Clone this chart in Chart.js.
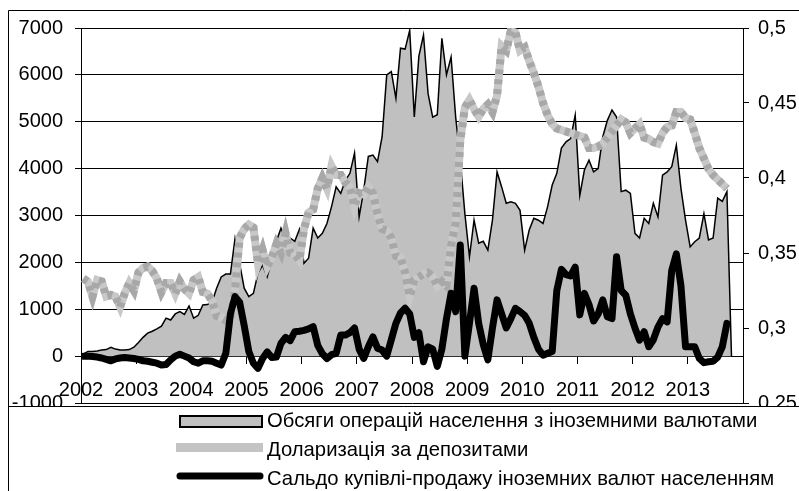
<!DOCTYPE html>
<html>
<head>
<meta charset="utf-8">
<script src="https://cdn.jsdelivr.net/npm/chart.js@4.4.1/dist/chart.umd.min.js"></script>
<style>
  html, body { margin: 0; padding: 0; background: #fff; }
  #wrap { width: 799px; height: 491px; position: relative; }
</style>
</head>
<body>
<div id="wrap"><canvas id="myChart"></canvas></div>
<script>
  // роки на осі X (місячні дані з січня 2002)
  const years = ['2002','2003','2004','2005','2006','2007','2008','2009','2010','2011','2012','2013'];

  // Обсяги операцій населення з іноземними валютами (ліва вісь)
  const volume = [
    40,100,100,110,130,140,190,150,130,130,140,190,
    290,400,490,530,580,640,810,770,900,950,890,1070,
    810,870,1090,1100,1150,1450,1690,1750,1750,2510,1980,1450,
    1270,1340,1770,1940,1690,2050,2450,2730,2490,2520,2450,2700,
    1980,2090,2730,2520,2620,2830,3190,3610,3470,3750,3900,4330,
    2970,3540,4260,4290,4150,4680,6000,6070,5500,6570,6550,6950,
    5100,6400,6850,5600,5100,5150,6780,6000,6380,5100,4180,3040,
    2120,2900,2410,2450,2260,2900,3930,3610,3260,3290,3260,3110,
    2260,2690,2940,2900,2830,3190,3650,3900,4440,4570,4640,5140,
    3430,3970,4180,3930,4000,4680,5030,5250,5100,3510,3540,3470,
    2620,2520,2940,2830,3260,2970,3860,3930,4040,4500,3580,2900,
    2330,2440,2520,3040,2480,2520,3370,3300,3510,0
  ];

  // Доларизація за депозитами (права вісь)
  const dollarization = [
    0.333,0.331,0.321,0.332,0.331,0.321,0.322,0.321,0.314,0.323,0.330,0.325,
    0.337,0.340,0.341,0.338,0.333,0.324,0.330,0.330,0.323,0.331,0.326,0.323,
    0.332,0.334,0.324,0.323,0.318,0.308,0.307,0.305,0.306,0.325,0.360,0.366,
    0.369,0.367,0.343,0.352,0.341,0.347,0.356,0.350,0.363,0.350,0.349,0.345,
    0.366,0.377,0.379,0.393,0.400,0.393,0.408,0.402,0.402,0.397,0.394,0.381,
    0.390,0.389,0.394,0.390,0.376,0.366,0.365,0.360,0.348,0.347,0.337,0.321,
    0.332,0.334,0.336,0.337,0.334,0.328,0.331,0.328,0.355,0.370,0.425,0.447,
    0.452,0.446,0.441,0.446,0.449,0.444,0.455,0.488,0.485,0.498,0.497,0.485,
    0.487,0.478,0.470,0.461,0.450,0.442,0.436,0.433,0.432,0.431,0.430,0.429,
    0.428,0.427,0.420,0.420,0.421,0.423,0.427,0.431,0.435,0.439,0.437,0.430,
    0.433,0.436,0.427,0.426,0.424,0.423,0.430,0.434,0.435,0.444,0.444,0.440,
    0.439,0.430,0.420,0.413,0.406,0.402,0.399,0.396,0.393
  ];

  // Сальдо купівлі-продажу іноземних валют населенням (ліва вісь)
  const saldo = [
    0,0,-10,-20,-40,-70,-100,-60,-40,-30,-40,-50,
    -70,-100,-110,-130,-150,-190,-180,-80,0,40,0,-40,
    -120,-150,-100,-100,-110,-150,-190,60,900,1270,1150,650,
    100,-150,-260,-50,90,-30,-20,270,400,330,520,530,
    550,580,630,230,50,-50,30,60,450,450,500,600,
    150,-50,200,410,170,130,0,350,700,920,1020,900,
    400,500,-120,200,150,-220,150,800,1340,950,2370,0,
    700,1450,700,250,-80,600,1200,900,600,800,1020,950,
    870,700,400,150,20,60,100,1400,1850,1740,1710,1900,
    880,1340,1100,750,900,1200,840,800,2120,1400,1300,900,
    600,340,520,200,350,620,800,730,1830,2180,1500,200,
    200,200,-50,-140,-120,-110,-20,200,700
  ];

  const font = { family: '"Liberation Sans", Arial, sans-serif', size: 20 };

  // точка в середині місяця
  function toPoints(arr) {
    return arr.map((v, i) => ({ x: i + 0.5, y: v }));
  }

  // рамка та легенда як в оригіналі
  const frameAndLegend = {
    id: 'frameAndLegend',
    beforeDraw(chart) {
      const c = chart.ctx;
      c.save();
      c.fillStyle = '#fff';
      c.fillRect(0, 0, chart.width, chart.height);
      c.strokeStyle = '#000';
      c.lineWidth = 1;
      c.beginPath();
      c.moveTo(8.5, chart.height);
      c.lineTo(8.5, 10.5);
      c.lineTo(chart.width, 10.5);
      c.stroke();
      c.restore();
    },
    afterDraw(chart) {
      const c = chart.ctx;
      c.save();
      c.fillStyle = '#fff';
      c.fillRect(9, 407, chart.width, chart.height);
      c.strokeStyle = '#000';
      c.lineWidth = 1;
      c.beginPath();
      c.moveTo(8.5, chart.height);
      c.lineTo(8.5, 406.5);
      c.lineTo(chart.width, 406.5);
      c.stroke();

      const items = chart.data.datasets.filter(d => !d.legendSkip);
      const rows = [421, 450, 479];
      c.font = '21px "Liberation Sans", Arial, sans-serif';
      c.textBaseline = 'middle';
      items.forEach((d, i) => {
        const y = rows[i];
        if (i === 0) {
          c.fillStyle = d.backgroundColor;
          c.fillRect(180, y - 5, 82, 11);
          c.lineWidth = 2;
          c.strokeStyle = '#000';
          c.strokeRect(180, y - 5, 82, 11);
        } else if (i === 1) {
          c.fillStyle = '#c4c4c4';
          c.fillRect(176, y - 7, 87, 9);
        } else {
          c.lineCap = 'round';
          c.lineWidth = 7;
          c.strokeStyle = '#000';
          c.beginPath();
          c.moveTo(180, y - 3);
          c.lineTo(260, y - 3);
          c.stroke();
        }
        // трохи вужчий шрифт, як в оригіналі
        c.save();
        c.translate(267, y);
        c.scale(0.965, 1);
        c.fillStyle = '#000';
        c.fillText(d.label, 0, 0);
        c.restore();
      });
      c.restore();
    }
  };

  const ctx = document.getElementById('myChart').getContext('2d');

  const myChart = new Chart(ctx, {
    type: 'line',
    data: {
      datasets: [{
        label: 'Обсяги операцій населення з іноземними валютами',
        data: toPoints(volume),
        borderColor: '#000',
        borderWidth: 1.5,
        backgroundColor: '#c0c0c0',
        fill: 'origin',
        yAxisID: 'y',
        order: 4
      }, {
        label: 'Доларизація за депозитами',
        data: toPoints(dollarization),
        borderColor: '#c8c8c8',
        borderWidth: 8,
        fill: false,
        yAxisID: 'y1',
        order: 3
      }, {
        label: 'Доларизація за депозитами',
        legendSkip: true,
        data: toPoints(dollarization),
        borderColor: '#a8a8a8',
        borderWidth: 8,
        borderDash: [5, 5],
        fill: false,
        yAxisID: 'y1',
        order: 2
      }, {
        label: 'Сальдо купівлі-продажу іноземних валют населенням',
        data: toPoints(saldo),
        borderColor: '#000',
        borderWidth: 7,
        borderCapStyle: 'round',
        borderJoinStyle: 'round',
        fill: false,
        yAxisID: 'y',
        order: 1
      }]
    },
    options: {
      responsive: true,
      maintainAspectRatio: false,
      animation: false,
      layout: { padding: { top: 28, bottom: 88, left: 0, right: 0 } },
      elements: { point: { radius: 0 }, line: { tension: 0 } },
      plugins: { legend: { display: false }, tooltip: { enabled: false } },
      scales: {
        x: {
          type: 'linear',
          min: 0,
          max: 144,
          position: { y: 0 },
          afterFit: s => { s.height = 0; },
          grid: { drawOnChartArea: false, drawTicks: true, tickLength: 7, color: '#000' },
          border: { color: '#000', width: 1 },
          ticks: {
            stepSize: 12,
            autoSkip: false,
            maxRotation: 0,
            padding: 15,
            color: '#000',
            font: font,
            callback: v => years[v / 12] ?? ''
          }
        },
        y: {
          position: 'left',
          min: -1000,
          max: 7000,
          afterFit: s => { s.width = 81; },
          grid: { color: '#000', lineWidth: 1, tickLength: 6 },
          border: { color: '#000', width: 1 },
          ticks: { stepSize: 1000, padding: 12, color: '#000', font: font, callback: v => String(v) }
        },
        y1: {
          position: 'right',
          min: 0.25,
          max: 0.5,
          afterFit: s => { s.width = 56; },
          grid: { drawOnChartArea: false, color: '#000', tickLength: 6 },
          border: { color: '#000', width: 1 },
          ticks: {
            stepSize: 0.05,
            padding: 9,
            color: '#000',
            font: font,
            callback: v => String(Math.round(v * 100) / 100).replace('.', ',')
          }
        }
      }
    },
    plugins: [frameAndLegend]
  });
</script>
</body>
</html>
